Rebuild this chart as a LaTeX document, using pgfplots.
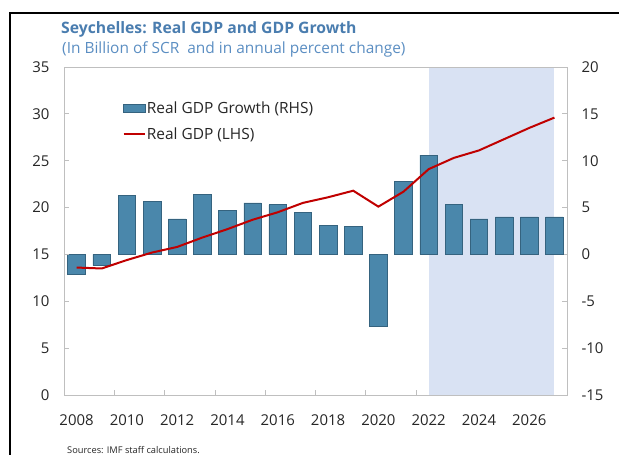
\documentclass[border=0pt]{standalone}
\usepackage{fontspec}
\setmainfont{Open Sans}
\usepackage{pgfplots}
\usepackage{pgfplotstable}
\pgfplotsset{compat=1.18}
\definecolor{barc}{HTML}{4A87AB}
\definecolor{bard}{HTML}{35637F}
\definecolor{shade}{HTML}{D9E2F3}
\definecolor{lred}{HTML}{C00000}
\definecolor{ttl}{HTML}{4A7DAF}
\definecolor{subc}{HTML}{5B8EC2}
\definecolor{axg}{HTML}{BFBFBF}
\definecolor{txt}{HTML}{262626}

\pgfplotstableread{
x growth gdp
0 -2.1 13.6
1 -1.2 13.5
2 6.3 14.4
3 5.7 15.2
4 3.8 15.8
5 6.4 16.8
6 4.7 17.7
7 5.5 18.7
8 5.3 19.5
9 4.5 20.5
10 3.1 21.1
11 3.0 21.8
12 -7.7 20.1
13 7.8 21.7
14 10.6 24.1
15 5.3 25.3
16 3.8 26.1
17 4.0 27.3
18 4.0 28.5
19 4.0 29.6
}\data

\pgfplotstableread{
x y
14 -15
14 20
19 20
19 -15
}\shadedata

\begin{document}
\begin{tikzpicture}
\path[use as bounding box] (0bp,0bp) rectangle (619bp,455bp);
\draw[black, line width=1.5bp] (10bp,0bp) -- (10bp,442bp) -- (619bp,442bp);
\node[anchor=base west, text=ttl, font=\bfseries\fontsize{15.8}{18}\selectfont, inner sep=0pt] at (61bp,421bp) {Seychelles: Real GDP and GDP Growth};
\node[anchor=base west, text=subc, font=\fontsize{15.5}{17}\selectfont, inner sep=0pt] at (62bp,401bp) {(In Billion of SCR\ \ and in annual percent change)};
\node[anchor=base west, text=txt, font=\fontsize{9.3}{11}\selectfont, inner sep=0pt] at (67bp,2bp) {Sources: IMF staff calculations.};

\pgfplotsset{
  every axis/.append style={
    /pgf/number format/assume math mode=true,
    scale only axis,
    width=503bp, height=328bp,
    at={(64bp,60bp)}, anchor=south west,
    xmin=-0.5, xmax=19.5,
    axis line style={axg},
    tick style={axg, line width=0.8bp},
    major tick length=5bp,
    minor tick length=5bp,
    tick label style={font=\fontsize{15}{17}\selectfont, text=txt},
  }
}

\begin{axis}[
  ymin=-15, ymax=20,
  ytick={-15,-10,...,20},
  ytick pos=right,
  tick align=inside,
  yticklabel style={xshift=11bp},
  xtick={0,2,...,18},
  xticklabels={2008,2010,2012,2014,2016,2018,2020,2022,2024,2026},
  xtick pos=bottom,
  major x tick style={draw=none},
  minor xtick={1.5,3.5,...,17.5},
  minor x tick style={axg, line width=0.8bp},
  xticklabel style={yshift=-16bp},
]
\addplot[fill=shade, draw=none] table[x=x, y=y] {\shadedata};
\addplot[ybar, bar width=0.7, fill=barc, draw=bard, line width=0.6bp] table[x=x, y=growth] {\data};
\end{axis}

\begin{axis}[
  ymin=0, ymax=35,
  ytick={0,5,...,35},
  ytick pos=left,
  tick align=inside,
  yticklabel style={xshift=-11bp},
  xtick=\empty,
  legend style={at={(0.11,0.905)}, anchor=north west, draw=none, fill=none,
    font=\fontsize{15.5}{17}\selectfont, text=txt, row sep=11bp,
    nodes={inner sep=1bp}},
  legend cell align=left,
]
\addlegendimage{legend image code/.code={\draw[fill=barc, draw=bard, line width=0.6bp] (0bp,-4bp) rectangle (22bp,4bp);}}
\addlegendentry{Real GDP Growth (RHS)}
\addplot[lred, line width=2bp, legend image code/.code={\draw[lred, line width=2bp] (0bp,0bp) -- (21bp,0bp);}] table[x=x, y=gdp] {\data};
\addlegendentry{Real GDP (LHS)}
\end{axis}
\end{tikzpicture}
\end{document}
